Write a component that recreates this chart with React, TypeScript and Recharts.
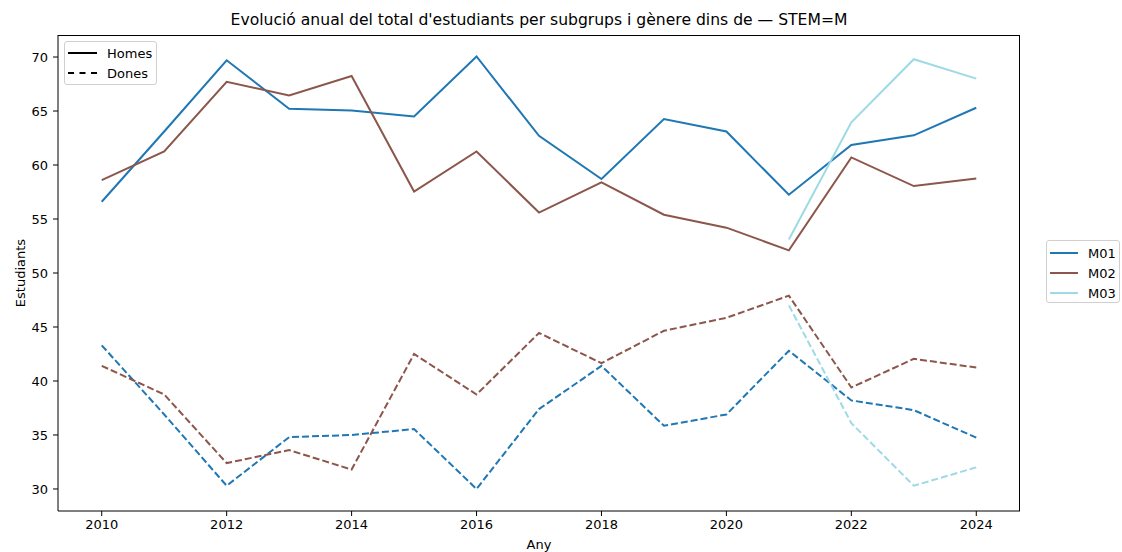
import React from 'react'
import { LineChart, Line, XAxis, YAxis } from 'recharts'

const years = [2010, 2011, 2012, 2013, 2014, 2015, 2016, 2017, 2018, 2019, 2020, 2021, 2022, 2023, 2024]
const subgroups = ['M01', 'M02', 'M03']
const colors = ['#1f77b4', '#8c564b', '#9edae5']

const m01Homes = [56.6, 63.1, 69.7, 65.2, 65.05, 64.5, 70.05, 62.7, 58.7, 64.25, 63.1, 57.25, 61.85, 62.75, 65.3]
const m02Homes = [58.6, 61.25, 67.7, 66.45, 68.25, 57.55, 61.25, 55.6, 58.4, 55.4, 54.2, 52.1, 60.7, 58.05, 58.75]
const m03Homes = [null, null, null, null, null, null, null, null, null, null, null, 53.1, 63.95, 69.8, 68.0]

const m01Dones = [43.3, 36.9, 30.3, 34.8, 35.0, 35.55, 30.0, 37.4, 41.4, 35.85, 36.9, 42.8, 38.2, 37.3, 34.75]
const m02Dones = [41.4, 38.75, 32.4, 33.6, 31.8, 42.5, 38.75, 44.45, 41.65, 44.65, 45.85, 47.9, 39.4, 42.05, 41.25]
const m03Dones = [null, null, null, null, null, null, null, null, null, null, null, 47.0, 36.1, 30.3, 32.0]

const xTicks = [2010, 2012, 2014, 2016, 2018, 2020, 2022, 2024]
const yTicks = [30, 35, 40, 45, 50, 55, 60, 65, 70]

const homes = [m01Homes, m02Homes, m03Homes]
const dones = [m01Dones, m02Dones, m03Dones]

const data = years.map((y, i) => {
  const row: any = { year: y }
  subgroups.forEach((s, j) => {
    row[s + '_H'] = homes[j][i]
    row[s + '_D'] = dones[j][i]
  })
  return row
})

const font = '"DejaVu Sans", sans-serif'
const tick = { fill: '#000', fontSize: 13, fontFamily: font }

function SeriesLegend() {
  return (
    <div style={{ position: 'absolute', left: 1046, top: 240, width: 74, height: 63, border: '1px solid #d0d0d0', borderRadius: 3, background: '#fff', boxSizing: 'border-box', fontFamily: font, fontSize: 13 }}>
      {subgroups.map((s, i) => (
        <div key={s} style={{ position: 'absolute', left: 3, top: 4 + i * 20, height: 16, display: 'flex', alignItems: 'center' }}>
          <div style={{ width: 28, height: 2, background: colors[i] }} />
          <span style={{ marginLeft: 10 }}>{s}</span>
        </div>
      ))}
    </div>
  )
}

export default function App() {
  return (
    <div style={{ position: 'absolute', left: 0, top: 0, width: 1122, height: 552, background: '#fff', fontFamily: font }}>
      <div style={{ position: 'absolute', left: 58, width: 962, top: 11, textAlign: 'center', fontSize: 15.6, color: '#000' }}>
        Evolució anual del total d'estudiants per subgrups i gènere dins de — STEM=M
      </div>
      <div style={{ position: 'absolute', left: 539, top: 537, transform: 'translateX(-50%)', fontSize: 13, color: '#000' }}>Any</div>
      <div style={{ position: 'absolute', left: 20, top: 273, transform: 'translate(-50%, -50%) rotate(-90deg)', fontSize: 13, color: '#000', whiteSpace: 'nowrap' }}>Estudiants</div>
      <LineChart width={1122} height={552} data={data} margin={{ top: 35, right: 102, bottom: 11, left: 8 }}>
        <XAxis dataKey="year" type="number" domain={[2009.3, 2024.7]} ticks={xTicks} tick={tick} tickSize={5} tickMargin={4} height={30} stroke="#000" allowDataOverflow />
        <YAxis type="number" domain={[27.96, 72.04]} ticks={yTicks} tick={tick} tickSize={5} tickMargin={5} width={50} stroke="#000" allowDataOverflow />
        {subgroups.map((s, i) => (
          <Line key={s + 'H'} type="linear" dataKey={s + '_H'} stroke={colors[i]} strokeWidth={2} dot={false} isAnimationActive={false} />
        ))}
        {subgroups.map((s, i) => (
          <Line key={s + 'D'} type="linear" dataKey={s + '_D'} stroke={colors[i]} strokeWidth={2} strokeDasharray="7 3" dot={false} isAnimationActive={false} />
        ))}
      </LineChart>
      {/* frame of the plot area, like matplotlib's spines */}
      <div style={{ position: 'absolute', left: 58, top: 35, width: 962, height: 476, border: '1px solid #000', borderLeft: 'none', borderBottom: 'none', boxSizing: 'border-box', pointerEvents: 'none' }} />
      <div style={{ position: 'absolute', left: 64, top: 41, width: 93, height: 44, border: '1px solid #d0d0d0', borderRadius: 3, background: '#fff', boxSizing: 'border-box', fontSize: 13, color: '#000' }}>
        <div style={{ position: 'absolute', left: 3, top: 3, height: 16, display: 'flex', alignItems: 'center' }}>
          <div style={{ width: 29, height: 2, background: '#000' }} />
          <span style={{ marginLeft: 10 }}>Homes</span>
        </div>
        <div style={{ position: 'absolute', left: 3, top: 23, height: 16, display: 'flex', alignItems: 'center' }}>
          <div style={{ width: 29, height: 0, borderTop: '2px dashed #000' }} />
          <span style={{ marginLeft: 10 }}>Dones</span>
        </div>
      </div>
      <SeriesLegend />
    </div>
  )
}
